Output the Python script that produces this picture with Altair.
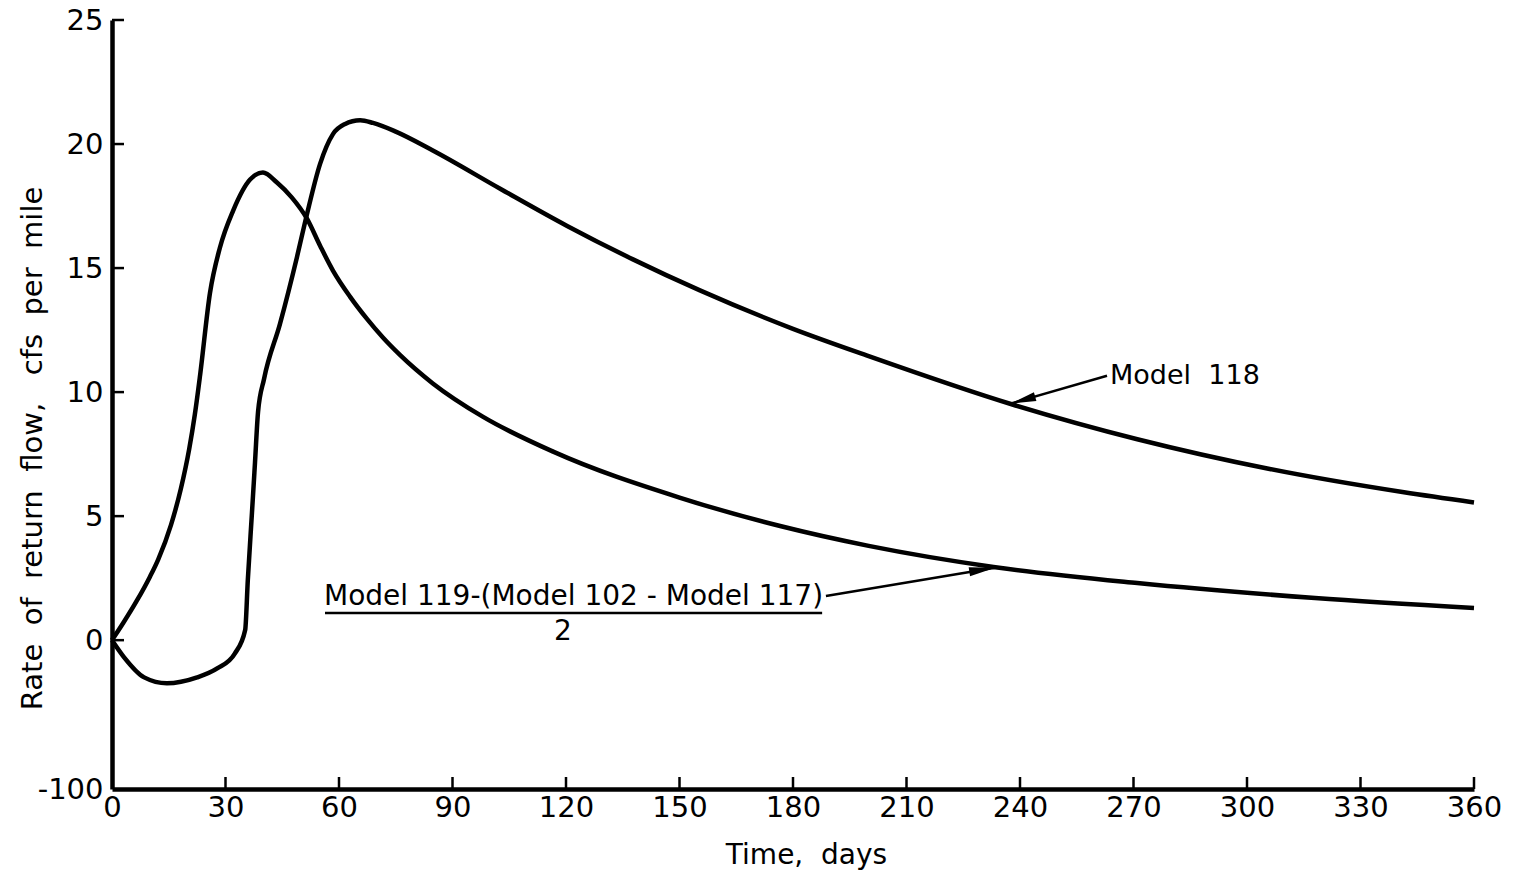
import altair as alt
import pandas as pd

FONT = "DejaVu Sans"
NB = "\u00a0"

# ---- data ----
days_118 = [0, 3.2, 8.5, 14.5, 22.5, 27.8, 32.5, 35.2, 35.9, 37.0, 37.8, 38.6, 40.2,
            44.4, 48.9, 51.5, 55, 58.4, 61.5, 65.6, 69, 75, 84.8, 102.6, 120.3, 137.7,
            155.4, 180, 200, 238, 271, 306, 341.5, 360]
flow_118 = [0, -0.69, -1.5, -1.74, -1.5, -1.14, -0.53, 0.41, 2.43, 5.15, 7.17, 9.2, 10.54,
            12.75, 15.45, 17.15, 19.2, 20.4, 20.8, 20.96, 20.85, 20.5, 19.74, 18.2, 16.7, 15.35,
            14.1, 12.55, 11.45, 9.5, 8.1, 6.9, 5.96, 5.55]

days_comb = [0, 3, 6.6, 10, 12.2, 15.6, 18.2, 20.4, 21.9, 23.3, 25.9, 28.5, 32, 36.5, 39.9,
             43.6, 47.5, 51.5, 55, 58.4, 62.9, 67.4, 71.6, 76.1, 84.8, 98.1, 116.6, 150,
             176.6, 200, 233, 271, 318, 360]
flow_comb = [0, 0.7, 1.6, 2.55, 3.25, 4.65, 6.1, 7.7, 9.1, 10.7, 14.0, 15.81, 17.31, 18.57, 18.85,
             18.45, 17.85, 17.0, 15.9, 14.9, 13.85, 12.95, 12.2, 11.5, 10.35, 9.0, 7.6, 5.75,
             4.6, 3.8, 2.95, 2.3, 1.7, 1.3]

x_ticks = [0, 30, 60, 90, 120, 150, 180, 210, 240, 270, 300, 330, 360]
y_ticks = [-6, 0, 5, 10, 15, 20, 25]
y_bottom_label = "-100"

x_title = "Time," + NB * 2 + "days"
y_title = NB.join(["Rate", "", "of", "", "return", "", "flow,", "", "", "cfs", "", "per", "", "mile"])

label_118 = "Model" + NB * 2 + "118"
label_comb = "Model 119-(Model 102 - Model 117)"
label_den = "2"

# annotation anchor points (data units)
ann_118_text = (263.8, 10.66)
ann_118_from = (263.0, 10.66)
ann_118_tip = (237.4, 9.53)
ann_comb_text = (122.0, 1.75)
ann_comb_line = (56.3, 187.7, 1.09)
ann_comb_den = (119.2, 0.32)
ann_comb_from = (188.7, 1.78)
ann_comb_tip = (233.4, 2.92)

# ---- tables ----
curves = pd.concat([
    pd.DataFrame({"day": days_118, "flow": flow_118, "series": "Model 118"}),
    pd.DataFrame({"day": days_comb, "flow": flow_comb, "series": "Combination"}),
])

W, H = 1362, 769
xs = alt.Scale(domain=[0, 360], nice=False, zero=False)
ys = alt.Scale(domain=[-6, 25], nice=False, zero=False)

xax = alt.Axis(
    values=x_ticks, title=x_title, tickSize=0, labelPadding=4, labelFlush=False,
    labelFont=FONT, labelFontSize=29, labelColor="black", grid=False,
    domainColor="black", domainWidth=4.5,
    titleFont=FONT, titleFontSize=28, titleFontWeight="normal", titleColor="black",
    titleX=694, titleY=66, titleBaseline="middle")
yax = alt.Axis(
    values=y_ticks, title=y_title, tickSize=0, labelPadding=9,
    labelFont=FONT, labelFontSize=29, labelColor="black", grid=False,
    labelExpr=f"datum.value == -6 ? '{y_bottom_label}' : datum.label",
    domainColor="black", domainWidth=4.5,
    titleFont=FONT, titleFontSize=29, titleFontWeight="normal", titleColor="black",
    titleAngle=270, titleX=-80, titleY=428, titleAlign="center", titleBaseline="middle")


def X(f):
    return alt.X(f, scale=xs, axis=xax)


def Y(f):
    return alt.Y(f, scale=ys, axis=yax)


lines = alt.Chart(curves).mark_line(color="black", strokeWidth=4.5, interpolate="monotone").encode(
    x=X("day:Q"), y=Y("flow:Q"), detail="series:N")

xt = pd.DataFrame({"d": [v for v in x_ticks if v > 0]})
xtick_marks = alt.Chart(xt).mark_rule(color="black", strokeWidth=2.5).encode(
    x=X("d:Q"), y=alt.value(H), y2=alt.value(H - 12))

yt = pd.DataFrame({"v": [v for v in y_ticks if v >= 0]})
ytick_marks = alt.Chart(yt).mark_rule(color="black", strokeWidth=2.5).encode(
    y=Y("v:Q"), x=alt.value(0), x2=alt.value(12))

arrows = pd.DataFrame({
    "x": [ann_118_from[0], ann_comb_from[0]],
    "y": [ann_118_from[1], ann_comb_from[1]],
    "x2": [ann_118_tip[0], ann_comb_tip[0]],
    "y2": [ann_118_tip[1], ann_comb_tip[1]],
})
arrow_lines = alt.Chart(arrows).mark_rule(color="black", strokeWidth=2.5).encode(
    x=X("x:Q"), y=Y("y:Q"), x2="x2:Q", y2="y2:Q")

head_shape = "M0,0L0.45,2.6L-0.45,2.6Z"
heads = pd.DataFrame({"x": [ann_118_tip[0], ann_comb_tip[0]],
                      "y": [ann_118_tip[1], ann_comb_tip[1]],
                      "ang": [254, 81]})
arrow_heads = alt.Chart(heads).mark_point(shape=head_shape, filled=True, color="black",
                                          opacity=1, size=400, strokeWidth=0).encode(
    x=X("x:Q"), y=Y("y:Q"), angle=alt.Angle("ang:Q", scale=None))

texts = pd.DataFrame({
    "x": [ann_118_text[0], ann_comb_text[0], ann_comb_den[0]],
    "y": [ann_118_text[1], ann_comb_text[1], ann_comb_den[1]],
    "t": [label_118, label_comb, label_den],
})
text_118 = alt.Chart(texts.iloc[[0]]).mark_text(font=FONT, fontSize=27, align="left",
                                                baseline="middle", color="black").encode(
    x=X("x:Q"), y=Y("y:Q"), text="t:N")
text_comb = alt.Chart(texts.iloc[[1, 2]]).mark_text(font=FONT, fontSize=28, align="center",
                                                    baseline="middle", color="black").encode(
    x=X("x:Q"), y=Y("y:Q"), text="t:N")

under = pd.DataFrame({"x": [ann_comb_line[0]], "x2": [ann_comb_line[1]], "y": [ann_comb_line[2]]})
underline = alt.Chart(under).mark_rule(color="black", strokeWidth=2.5).encode(
    x=X("x:Q"), x2="x2:Q", y=Y("y:Q"))

chart = alt.layer(lines, xtick_marks, ytick_marks, arrow_lines, arrow_heads,
                  text_118, text_comb, underline).properties(
    width=W, height=H,
    autosize=alt.AutoSizeParams(type="none"),
    padding={"left": 112, "top": 20, "right": 40, "bottom": 85},
    background="white",
).configure_view(stroke=None)

chart.save("out.html", embed_options={"renderer": "svg", "actions": False})
